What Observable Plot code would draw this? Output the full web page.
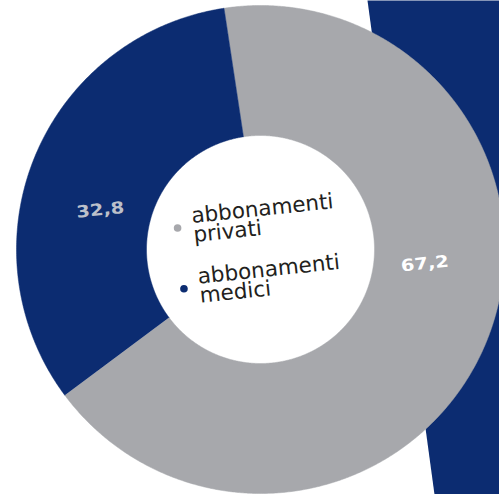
<!DOCTYPE html>
<html>
<head>
<meta charset="utf-8">
<script src="https://cdn.jsdelivr.net/npm/d3@7"></script>
<script src="https://cdn.jsdelivr.net/npm/@observablehq/plot@0.6"></script>
<style>
  html, body { margin: 0; padding: 0; background: #fff; overflow: hidden; }
  #chart svg { display: block; }
</style>
</head>
<body>
<div id="chart"></div>
<script>
// ---- data ----
const categories = ["abbonamenti privati", "abbonamenti medici"];
const values = [67.2, 32.8];
const valueLabels = ["67,2", "32,8"];
const legendLabels = ["abbonamenti\nprivati", "abbonamenti\nmedici"];
const sliceColors = ["#a7a8ac", "#0c2c71"];
const valueLabelColors = ["#ffffff", "#bcc0ca"];

// ---- layout ----
const W = 499, H = 494;
const cx = 260, cy = 249;          // donut centre in pixels
const rOuter = 244, rInner = 114;
const startDeg = -8.6;             // clockwise from 12 o'clock
const tilt = -6;                   // text tilt in degrees
const rad = Math.PI / 180;

const pie = d3.pie().sort(null).value(d => d.value).startAngle(startDeg * rad).endAngle((startDeg + 360) * rad);
const rows = categories.map((c, i) => ({cat: c, value: values[i], label: valueLabels[i], color: sliceColors[i], labelColor: valueLabelColors[i], legend: legendLabels[i]}));
const arcs = pie(rows);

function polar(r, a) { return {x: r * Math.sin(a), y: -r * Math.cos(a)}; }

function ringPoints(a0, a1) {
  const n = Math.max(8, Math.ceil((a1 - a0) / (0.4 * rad)));
  const pts = [];
  for (let k = 0; k <= n; k++) pts.push(polar(rOuter, a0 + (a1 - a0) * k / n));
  for (let k = n; k >= 0; k--) pts.push(polar(rInner, a0 + (a1 - a0) * k / n));
  return pts;
}

// decorative navy band behind the donut (right side)
const band = [
  {x: 367 - cx, y: 0 - cy},
  {x: 434 - cx, y: H - cy},
  {x: W - cx, y: H - cy},
  {x: W - cx, y: 0 - cy}
];

// value labels: placed part-way along each slice
const labelPts = arcs.map(a => {
  const ang = a.startAngle + 0.428 * (a.endAngle - a.startAngle);
  const p = polar(165, ang);
  return {...p, label: a.data.label, color: a.data.labelColor};
});

// legend inside the hole, tilted
const t = tilt * rad;
const origin = {x: 192 - cx, y: 226 - cy};
const stepDown = 61;
const legendPts = rows.map((d, i) => {
  const x = origin.x - stepDown * i * Math.sin(t);
  const y = origin.y + stepDown * i * Math.cos(t);
  return {
    x, y,
    dx: x - 15 * Math.cos(t),
    dy: y - 15 * Math.sin(t),
    text: d.legend,
    color: d.color
  };
});

const marks = [
  Plot.line(band, {x: "x", y: "y", fill: "#0c2c71", stroke: "none"})
];
arcs.forEach(a => {
  marks.push(Plot.line(ringPoints(a.startAngle, a.endAngle), {x: "x", y: "y", fill: a.data.color, stroke: a.data.color, strokeWidth: 0.5}));
});
marks.push(
  Plot.text(labelPts, {
    x: "x", y: "y", text: "label", fill: "color",
    fontSize: 16.5, fontWeight: "bold", fontFamily: "DejaVu Sans",
    rotate: tilt
  }),
  Plot.dot(legendPts, {x: "dx", y: "dy", r: 3.8, fill: "color", stroke: "none"}),
  Plot.text(legendPts, {
    x: "x", y: "y", text: "text", fill: "#231f20",
    fontSize: 21.5, fontFamily: "DejaVu Sans", textAnchor: "start",
    lineAnchor: "middle", lineHeight: 0.89, rotate: tilt
  })
);

const chart = Plot.plot({
  width: W,
  height: H,
  margin: 0,
  style: {background: "#fff"},
  x: {domain: [-cx, W - cx], range: [0, W], axis: null},
  y: {domain: [-cy, H - cy], range: [0, H], axis: null},
  color: {type: "identity"},
  marks
});

// widen the value labels (extended typeface look)
d3.select(chart).selectAll("text").each(function () {
  if (!valueLabels.includes(this.textContent.trim())) return;
  const tr = this.getAttribute("transform");
  if (tr) {
    this.setAttribute("transform", tr + " scale(1.18,1)");
  } else {
    const x = this.getAttribute("x"), y = this.getAttribute("y");
    this.removeAttribute("x"); this.removeAttribute("y");
    this.setAttribute("transform", `translate(${x},${y}) rotate(${tilt}) scale(1.18,1)`);
  }
});

document.getElementById("chart").appendChild(chart);
</script>
</body>
</html>
